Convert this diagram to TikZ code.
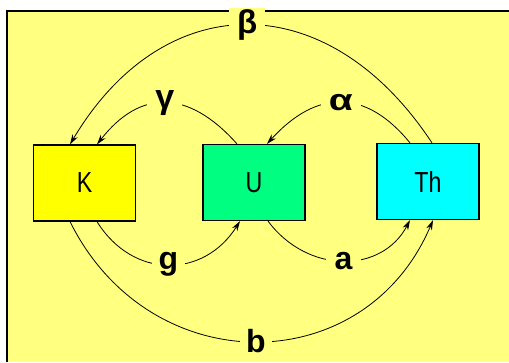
\documentclass[tikz,border=0pt]{standalone}
\usepackage{fontspec}
\setmainfont{Liberation Sans}
\usetikzlibrary{arrows.meta,calc}
\definecolor{bgyel}{RGB}{255,255,128}
\definecolor{kyel}{RGB}{255,255,0}
\definecolor{ugreen}{RGB}{0,255,128}
\definecolor{thcyan}{RGB}{0,255,255}
\begin{document}
\begin{tikzpicture}[x=1pt,y=-1pt,
  box/.style={draw=black, line width=1.2pt, minimum width=102pt, minimum height=76pt, inner sep=0pt, font=\fontsize{29}{29}\selectfont},
  conn/.style={line width=0.8pt, -{Stealth[length=10pt,width=6pt]}},
  lab/.style={fill=bgyel, inner xsep=7pt, inner ysep=2pt, font=\bfseries\fontsize{32}{32}\selectfont},
  glab/.style={fill=bgyel, inner xsep=8pt, inner ysep=2pt, font=\bfseries\fontsize{30}{30}\selectfont}]
\useasboundingbox (0,0) rectangle (509,362);
\fill[bgyel] (7,11) rectangle (509,362);
\draw[line width=2pt] (7,362) -- (7,11) -- (509,11);
\node[box, fill=kyel] (K) at (84.5,183) {\scalebox{0.8}[1]{K}};
\node[box, fill=ugreen] (U) at (254,182.5) {\scalebox{0.8}[1]{U}};
\node[box, fill=thcyan] (Th) at (428,181.5) {\scalebox{0.8}[1]{Th}};
% beta
\draw[conn] ($(Th.north)+(4,0)$) .. controls +(-104,-158) and +(94,-158) .. node[glab, pos=0.5, font=\bfseries\fontsize{33}{33}\selectfont] (lbeta) {β} ($(K.north)+(-14.5,0)$);
% gamma
\draw[conn] ($(U.north)+(-17,0)$) .. controls +(-49,-55) and +(43,-55) .. node[glab, pos=0.5, font=\bfseries\fontsize{34}{34}\selectfont] (lgamma) {γ} ($(K.north)+(12.5,0)$);
% alpha
\draw[conn] ($(Th.north)+(-18,0)$) .. controls +(-44,-54) and +(50,-55) .. node[glab, pos=0.5] (lalpha) {\scalebox{1.3}[1]{α}} ($(U.north)+(13,0)$);
% g
\draw[conn] ($(K.south)+(12.5,0)$) .. controls +(36,58) and +(-36,57.5) .. node[lab, pos=0.5] (lg) {g} ($(U.south)+(-14,0)$);
% a
\draw[conn] ($(U.south)+(14,0)$) .. controls +(40,53.5) and +(-28,53.5) .. node[lab, pos=0.5, inner xsep=9pt] (la) {a} ($(Th.south)+(-18,0)$);
% b
\draw[conn] ($(K.south)+(-14.5,0)$) .. controls +(80,161) and +(-68,160.5) .. node[lab, pos=0.5, inner xsep=6pt] (lb) {b} ($(Th.south)+(5,0)$);
\end{tikzpicture}
\end{document}
